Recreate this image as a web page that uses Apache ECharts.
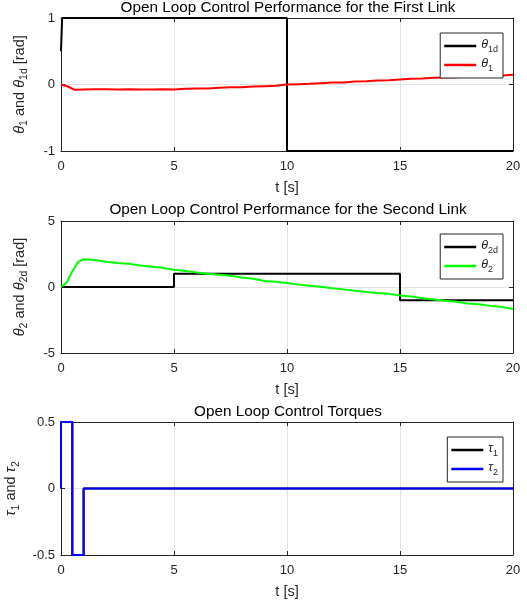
<!DOCTYPE html>
<html>
<head>
<meta charset="utf-8">
<script src="https://cdn.jsdelivr.net/npm/echarts@6/dist/echarts.min.js"></script>
<style>
  html, body { margin: 0; padding: 0; background: #fff; }
  #chart-container { width: 527px; height: 605px; }
</style>
</head>
<body>
<div id="chart-container"></div>
<script>
// time ticks and limits
var tTicks = [0, 5, 10, 15, 20];

// first link
var theta1dT = [0, 0.05, 0.05, 10, 10, 20];
var theta1d  = [0.5, 0.5, 1, 1, -1, -1];
var theta1T  = [0, 0.3, 0.6, 1, 1.5, 2, 2.5, 3, 3.5, 4, 4.5, 5, 5.5, 6, 6.5, 7, 7.5, 8, 8.5, 9, 9.5, 10, 10.5, 11, 11.5, 12, 12.5, 13, 13.5, 14, 14.5, 15, 15.5, 16, 16.5, 17, 17.5, 18, 18.5, 19, 19.5, 20];
var theta1   = [0, -0.03, -0.08, -0.075, -0.07, -0.07, -0.075, -0.07, -0.075, -0.075, -0.07, -0.075, -0.065, -0.06, -0.06, -0.05, -0.04, -0.04, -0.03, -0.025, -0.02, 0, 0.005, 0.01, 0.02, 0.03, 0.03, 0.045, 0.05, 0.06, 0.065, 0.075, 0.085, 0.09, 0.1, 0.105, 0.11, 0.115, 0.12, 0.125, 0.135, 0.145];

// second link
var theta2dT = [0, 5, 5, 15, 15, 20];
var theta2d  = [0, 0, 1, 1, -1, -1];
var theta2T  = [0, 0.25, 0.5, 0.75, 1, 1.5, 2, 2.5, 3, 3.5, 4, 4.5, 5, 5.5, 6, 6.5, 7, 7.5, 8, 8.5, 9, 9.5, 10, 10.5, 11, 11.5, 12, 12.5, 13, 13.5, 14, 14.5, 15, 15.5, 16, 16.5, 17, 17.5, 18, 18.5, 19, 19.5, 20];
var theta2   = [0, 0.35, 1.2, 1.9, 2.1, 2.05, 1.92, 1.82, 1.76, 1.63, 1.53, 1.45, 1.3, 1.22, 1.1, 1.0, 0.93, 0.85, 0.72, 0.62, 0.45, 0.4, 0.3, 0.18, 0.1, 0.02, -0.1, -0.18, -0.28, -0.38, -0.45, -0.52, -0.65, -0.72, -0.85, -0.95, -1.05, -1.12, -1.25, -1.3, -1.43, -1.52, -1.66];

// torques
var tauT = [0, 0, 0.5, 0.5, 1, 1, 20];
var tau1 = [0, 0.5, 0.5, -0.5, -0.5, 0, 0];
var tau2 = [0, 0.5, 0.5, -0.5, -0.5, 0, 0];

function pairs(xs, ys) {
  return xs.map(function (x, i) { return [x, ys[i]]; });
}

var FONT = 'Liberation Sans';
var AX = '#262626';
var grids = [
  { left: 61, right: 14, top: 18, height: 133, outerBoundsMode: 'none', containLabel: false },
  { left: 61, right: 14, top: 221, height: 132, outerBoundsMode: 'none', containLabel: false },
  { left: 61, right: 14, top: 422, height: 133, outerBoundsMode: 'none', containLabel: false }
];
var yLims = [[-1, 1, 1], [-5, 5, 5], [-0.5, 0.5, 0.5]];
var yNames = [
  '{i|θ}{s|1}{n| and }{i|θ}{s|1d}{n| [rad]}',
  '{i|θ}{s|2}{n| and }{i|θ}{s|2d}{n| [rad]}',
  '{i|τ}{s|1}{n| and }{i|τ}{s|2}'
];
var rich = {
  n: { fontSize: 14.5, fontFamily: FONT, color: AX, lineHeight: 18, verticalAlign: 'top' },
  i: { fontSize: 14.5, fontFamily: FONT, fontStyle: 'italic', color: AX, lineHeight: 18, verticalAlign: 'top' },
  s: { fontSize: 10.5, fontFamily: FONT, color: AX, lineHeight: 18, verticalAlign: 'bottom' }
};

var xAxes = [], yAxes = [];
for (var g = 0; g < 3; g++) {
  xAxes.push({
    type: 'value', gridIndex: g, min: 0, max: 20, interval: 5,
    name: 't [s]', nameLocation: 'middle', nameGap: 29,
    nameTextStyle: { fontSize: 14.5, fontFamily: FONT, color: AX },
    axisLine: { onZero: false, lineStyle: { color: AX, width: 1 } },
    axisTick: { inside: true, length: 4, lineStyle: { color: AX } },
    axisLabel: { fontSize: 13, fontFamily: FONT, color: AX, margin: 9 },
    splitLine: { show: true, lineStyle: { color: '#e3e3e3', width: 1 } }
  });
  yAxes.push({
    type: 'value', gridIndex: g, min: yLims[g][0], max: yLims[g][1], interval: yLims[g][2],
    name: yNames[g], nameLocation: 'middle', nameGap: 31, nameRotate: 90,
    nameTextStyle: { rich: rich },
    axisLine: { show: true, onZero: false, lineStyle: { color: AX, width: 1 } },
    axisTick: { show: true, inside: true, length: 4, lineStyle: { color: AX } },
    axisLabel: { fontSize: 13, fontFamily: FONT, color: AX, margin: 6 },
    splitLine: { show: true, lineStyle: { color: '#e3e3e3', width: 1 } }
  });
}
// mirrored box axes (top / right)
for (var g2 = 0; g2 < 3; g2++) {
  xAxes.push({
    type: 'value', gridIndex: g2, position: 'top', min: 0, max: 20, interval: 5,
    axisLine: { onZero: false, lineStyle: { color: AX } },
    axisTick: { inside: true, length: 4, lineStyle: { color: AX } },
    axisLabel: { show: false }, splitLine: { show: false }
  });
  yAxes.push({
    type: 'value', gridIndex: g2, position: 'right', min: yLims[g2][0], max: yLims[g2][1], interval: yLims[g2][2],
    axisLine: { show: true, onZero: false, lineStyle: { color: AX } },
    axisTick: { show: true, inside: true, length: 4, lineStyle: { color: AX } },
    axisLabel: { show: false }, splitLine: { show: false }
  });
}

function lineSeries(name, xs, ys, color, idx) {
  return {
    name: name, type: 'line', xAxisIndex: idx, yAxisIndex: idx,
    data: pairs(xs, ys), showSymbol: false, symbol: 'none',
    lineStyle: { color: color, width: 2 }, itemStyle: { color: color },
    animation: false
  };
}

var legendLabels = {
  theta1d: '{i|θ}{s|1d}', theta1: '{i|θ}{s|1}',
  theta2d: '{i|θ}{s|2d}', theta2: '{i|θ}{s|2}',
  tau1: '{i|τ}{s|1}', tau2: '{i|τ}{s|2}'
};
var legRich = {
  i: { fontSize: 12.5, fontFamily: FONT, fontStyle: 'italic', color: AX, lineHeight: 16, verticalAlign: 'top' },
  s: { fontSize: 9, fontFamily: FONT, color: AX, lineHeight: 16, verticalAlign: 'bottom' }
};
function legend(names, top) {
  return {
    data: names, orient: 'vertical', right: 24, top: top,
    icon: 'rect', itemWidth: 32, itemHeight: 2.5, itemGap: 3,
    backgroundColor: '#fff', borderColor: AX, borderWidth: 1,
    padding: [5, 5, 5, 4],
    formatter: function (n) { return legendLabels[n]; },
    textStyle: { rich: legRich }
  };
}

var myChart = echarts.init(document.getElementById('chart-container'));
myChart.setOption({
  backgroundColor: '#fff',
  animation: false,
  title: [
    { text: 'Open Loop Control Performance for the First Link', left: 288, top: 0, textAlign: 'center', padding: 0 },
    { text: 'Open Loop Control Performance for the Second Link', left: 288, top: 202, textAlign: 'center', padding: 0 },
    { text: 'Open Loop Control Torques', left: 288, top: 404, textAlign: 'center', padding: 0 }
  ].map(function (t) {
    t.textStyle = { fontSize: 15.3, fontWeight: 'normal', fontFamily: FONT, color: '#000' };
    return t;
  }),
  legend: [
    legend(['theta1d', 'theta1'], 33),
    legend(['theta2d', 'theta2'], 234),
    legend(['tau1', 'tau2'], 437)
  ],
  grid: grids,
  xAxis: xAxes,
  yAxis: yAxes,
  series: [
    lineSeries('theta1d', theta1dT, theta1d, '#000000', 0),
    lineSeries('theta1', theta1T, theta1, '#ff0000', 0),
    lineSeries('theta2d', theta2dT, theta2d, '#000000', 1),
    lineSeries('theta2', theta2T, theta2, '#00ff00', 1),
    lineSeries('tau1', tauT, tau1, '#000000', 2),
    lineSeries('tau2', tauT, tau2, '#0000ff', 2)
  ]
});
</script>
</body>
</html>
